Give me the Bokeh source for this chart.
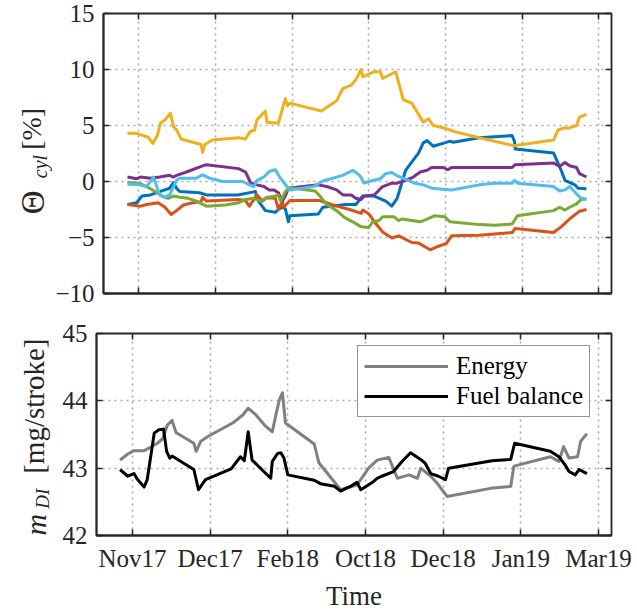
import math
from bokeh.plotting import figure
from bokeh.layouts import column, row
from bokeh.models import (Range1d, FixedTicker, LinearAxis, Legend, LegendItem,
                          CustomLabelingPolicy)
from bokeh.core.properties import value
from bokeh.embed import file_html
from bokeh.resources import INLINE

# ---------------- data ----------------
tick_labels = ["Nov17", "Dec17", "Feb18", "Oct18", "Dec18", "Jan19", "Mar19"]
tick_pos = list(range(1, len(tick_labels) + 1))

# cylinder 1 (blue)
t_c1 = [0.85, 0.97, 1.04, 1.15, 1.27, 1.40, 1.45, 1.49, 1.53, 1.79, 1.88, 2.29, 2.48, 2.52,
        2.54, 2.56, 2.65, 2.78, 2.82, 2.87, 2.91, 2.95, 2.97, 3.34, 3.40, 3.70, 3.83, 3.92,
        4.07, 4.22, 4.30, 4.37, 4.48, 4.54, 4.65, 4.71, 4.76, 4.84, 4.99, 5.06, 5.10, 5.44,
        5.87, 5.90, 5.91, 6.41, 6.51, 6.56, 6.69, 6.73, 6.84]
th_c1 = [-2.05, -1.9, -1.3, -1.2, -0.9, -0.6, -0.1, -0.6, -0.9, -1.0, -1.2, -1.2, -0.95, -0.9,
         -1.5, -1.75, -2.6, -2.75, -2.5, -2.3, -2.45, -3.6, -3.05, -2.9, -2.3, -2.05, -2.05, -1.3,
         -1.3, -1.75, -2.2, -1.5, 1.0, 1.55, 2.55, 3.45, 3.65, 3.15, 3.45, 3.6, 3.5, 3.9,
         4.1, 3.6, 2.9, 2.55, 1.0, 0.1, -0.3, -0.6, -0.65]

# cylinder 2 (orange)
t_c2 = [0.85, 1.02, 1.10, 1.25, 1.34, 1.42, 1.49, 1.58, 1.70, 1.81, 1.83, 1.88, 2.30, 2.39,
        2.44, 2.54, 2.61, 2.67, 2.78, 2.82, 2.87, 2.89, 2.97, 3.36, 3.58, 3.75, 3.90, 3.92,
        4.00, 4.09, 4.18, 4.30, 4.39, 4.56, 4.65, 4.80, 4.88, 5.01, 5.08, 5.44, 5.87, 5.91,
        6.41, 6.51, 6.62, 6.75, 6.84]
th_c2 = [-2.05, -2.2, -2.05, -1.9, -2.3, -2.95, -2.6, -2.1, -1.9, -1.8, -1.4, -1.75, -1.6, -1.7,
         -2.2, -1.2, -1.75, -1.45, -1.5, -2.5, -1.75, -2.3, -1.7, -1.7, -2.2, -2.5, -2.85, -2.55,
         -2.9, -3.75, -4.5, -5.05, -4.85, -5.45, -5.5, -6.1, -5.85, -5.55, -4.85, -4.8, -4.55, -4.2,
         -4.55, -4.05, -3.35, -2.65, -2.5]

# cylinder 3 (yellow)
t_c3 = [0.85, 0.97, 1.12, 1.18, 1.24, 1.28, 1.34, 1.41, 1.45, 1.49, 1.55, 1.81, 1.83, 1.86,
        1.96, 2.30, 2.39, 2.45, 2.51, 2.54, 2.65, 2.67, 2.82, 2.91, 2.94, 2.97, 3.38, 3.58,
        3.66, 3.77, 3.83, 3.90, 3.92, 4.07, 4.15, 4.18, 4.35, 4.45, 4.56, 4.71, 4.78, 4.84,
        4.97, 5.06, 5.12, 5.44, 5.89, 6.41, 6.47, 6.56, 6.60, 6.71, 6.75, 6.84]
th_c3 = [4.3, 4.3, 3.95, 3.4, 4.1, 5.2, 5.5, 6.1, 4.9, 4.6, 3.8, 3.3, 2.6, 3.3,
         3.7, 3.9, 3.8, 4.45, 4.6, 5.5, 6.3, 5.3, 5.2, 7.4, 6.75, 7.0, 6.3, 7.2,
         8.3, 8.6, 9.1, 10.0, 9.35, 9.8, 9.8, 9.2, 9.8, 7.3, 7.0, 5.3, 5.6, 5.0,
         4.8, 4.6, 4.45, 3.9, 3.2, 3.7, 4.6, 4.8, 4.75, 5.0, 5.75, 6.0]

# cylinder 4 (purple)
t_c4 = [0.85, 0.97, 1.02, 1.15, 1.27, 1.40, 1.45, 1.49, 1.62, 1.83, 1.88, 2.30, 2.39, 2.46,
        2.54, 2.63, 2.70, 2.76, 2.82, 2.87, 2.91, 2.95, 3.34, 3.45, 3.58, 3.66, 3.77, 3.83,
        3.90, 3.94, 4.07, 4.18, 4.30, 4.37, 4.48, 4.58, 4.67, 4.76, 4.82, 4.97, 5.03, 5.08,
        5.87, 5.91, 6.41, 6.49, 6.56, 6.62, 6.71, 6.75, 6.84]
th_c4 = [0.4, 0.25, 0.4, 0.3, 0.4, 0.55, 0.4, 0.55, 0.85, 1.4, 1.5, 1.15, 0.85, -0.15,
         -0.3, -0.45, -0.75, -0.75, -1.0, -1.75, -1.3, -0.6, -0.3, -0.45, -0.75, -1.2, -1.2, -1.5,
         -1.6, -1.3, -1.2, -0.45, -0.15, -0.15, 0.1, 0.4, 0.85, 1.0, 1.25, 1.25, 1.05, 1.25,
         1.25, 1.5, 1.65, 1.35, 1.7, 1.4, 1.25, 0.7, 0.4]

# cylinder 5 (green)
t_c5 = [0.85, 1.00, 1.10, 1.21, 1.30, 1.38, 1.45, 1.53, 1.64, 1.75, 1.88, 2.13, 2.30, 2.39,
        2.50, 2.59, 2.67, 2.76, 2.82, 2.85, 2.91, 2.97, 3.30, 3.36, 3.45, 3.58, 3.68, 3.79,
        3.90, 4.00, 4.05, 4.13, 4.18, 4.33, 4.39, 4.43, 4.67, 4.76, 4.86, 4.99, 5.06, 5.44,
        5.64, 5.87, 5.94, 6.41, 6.49, 6.56, 6.62, 6.71, 6.77, 6.84]
th_c5 = [-0.1, -0.15, -0.45, -0.9, -1.3, -1.5, -1.3, -1.4, -1.5, -1.75, -2.2, -2.1, -1.9, -1.6,
         -1.5, -1.75, -1.4, -1.35, -1.2, -1.75, -0.9, -0.55, -0.85, -1.3, -2.05, -2.6, -3.2, -3.6,
         -4.05, -4.1, -3.6, -3.5, -3.15, -3.15, -3.5, -3.35, -3.6, -3.35, -3.05, -3.15, -3.6, -3.85,
         -3.9, -3.8, -3.05, -2.6, -2.3, -2.55, -2.3, -2.0, -1.6, -1.55]

# cylinder 6 (light blue)
t_c6 = [0.85, 1.00, 1.10, 1.19, 1.27, 1.34, 1.40, 1.49, 1.53, 1.75, 1.83, 1.92, 2.09, 2.35,
        2.43, 2.50, 2.54, 2.63, 2.70, 2.78, 2.85, 2.93, 2.97, 3.28, 3.40, 3.66, 3.79, 3.88,
        3.94, 4.00, 4.15, 4.22, 4.30, 4.37, 4.48, 4.60, 4.71, 4.82, 5.08, 5.44, 5.64, 5.87,
        5.90, 5.94, 6.41, 6.49, 6.56, 6.62, 6.71, 6.77, 6.84]
th_c6 = [-0.25, -0.3, -0.45, 0.4, -1.2, -1.4, -1.2, 0.1, 0.3, 0.3, 0.6, 0.3, 0.0, 0.0,
         -0.25, -0.45, 0.1, 0.4, 0.9, 1.05, 0.25, -0.45, -0.75, -0.45, 0.05, 0.55, 1.0, 0.55,
         -0.15, 0.0, 0.25, 0.7, 0.8, 0.5, 0.2, -0.15, -0.3, -0.6, -0.75, -0.3, -0.15, -0.15,
         0.1, -0.15, -0.45, -0.85, -0.75, -0.45, -1.1, -1.5, -1.6]

# injected fuel mass, energy method (gray)
t_energy = [0.84, 0.94, 1.02, 1.15, 1.22, 1.32, 1.39, 1.45, 1.51, 1.56, 1.79, 1.82, 1.88, 1.97,
            2.29, 2.42, 2.49, 2.59, 2.70, 2.80, 2.85, 2.89, 2.93, 2.97, 3.34, 3.40, 3.68, 3.89,
            4.04, 4.15, 4.30, 4.41, 4.56, 4.67, 4.71, 4.84, 4.92, 5.05, 5.61, 5.87, 5.91, 6.38,
            6.49, 6.55, 6.62, 6.73, 6.77, 6.85]
m_energy = [43.12, 43.21, 43.26, 43.26, 43.3, 43.37, 43.44, 43.64, 43.71, 43.53, 43.37, 43.25, 43.4, 43.47,
            43.67, 43.79, 43.89, 43.79, 43.64, 43.54, 43.81, 44.01, 44.12, 43.67, 43.36, 43.08, 42.68, 42.75,
            43.0, 43.12, 43.16, 42.85, 42.9, 42.85, 43.0, 42.88, 42.78, 42.58, 42.7, 42.73, 43.03, 43.17,
            43.1, 43.32, 43.15, 43.17, 43.4, 43.51]

# injected fuel mass, fuel balance (black)
t_fuel = [0.84, 0.94, 1.02, 1.06, 1.15, 1.19, 1.28, 1.34, 1.40, 1.44, 1.48, 1.51, 1.79, 1.85,
          1.94, 2.27, 2.39, 2.44, 2.49, 2.54, 2.78, 2.80, 2.87, 2.91, 2.95, 3.00, 3.34, 3.42,
          3.60, 3.68, 3.77, 3.81, 3.89, 3.94, 4.09, 4.15, 4.21, 4.36, 4.47, 4.58, 4.71, 4.77,
          4.84, 4.94, 5.03, 5.07, 5.63, 5.87, 5.92, 6.38, 6.49, 6.58, 6.62, 6.70, 6.75, 6.85]
m_fuel = [42.98, 42.88, 42.92, 42.84, 42.72, 42.83, 43.52, 43.57, 43.58, 43.25, 43.15, 43.18, 42.98, 42.68,
          42.83, 42.99, 43.17, 43.11, 43.54, 43.12, 42.85, 43.1, 43.22, 43.23, 43.15, 42.9, 42.82, 42.77,
          42.73, 42.66, 42.71, 42.73, 42.79, 42.68, 42.79, 42.85, 42.88, 42.95, 43.1, 43.23, 43.13, 43.07,
          42.92, 42.88, 42.83, 43.0, 43.11, 43.13, 43.37, 43.25, 43.17, 43.03, 42.95, 42.9, 42.98, 42.92]

# ---------------- styling ----------------
FONT = "Liberation Serif"
AX = "#262626"
X_RANGE = (0.537, 7.167)
cyl_colors = ["#0072BD", "#D95319", "#EDB120", "#7E2F8E", "#77AC30", "#4DBEEE"]
LABEL_W = 52


def no_labels():
    return CustomLabelingPolicy(code="return new Set()")


def make_fig(height, yr, yticks, border_top, border_bottom, show_x_labels):
    p = figure(width=637 - LABEL_W, height=height, x_range=Range1d(*X_RANGE), y_range=Range1d(*yr),
               output_backend="svg", toolbar_location=None,
               min_border_left=96 - LABEL_W, min_border_right=26,
               min_border_top=border_top, min_border_bottom=border_bottom,
               background_fill_color="white", border_fill_color="white")
    p.outline_line_color = AX
    p.outline_line_width = 1.8
    p.outline_line_alpha = 1.0
    xt = FixedTicker(ticks=tick_pos)
    yt = FixedTicker(ticks=yticks)
    p.xaxis.ticker = xt
    p.yaxis.ticker = yt
    p.xgrid.ticker = xt
    p.ygrid.ticker = yt
    for g in (p.xgrid, p.ygrid):
        g.grid_line_color = "#a8a8a8"
        g.grid_line_width = 1.6
        g.grid_line_dash = "2 4"
    for ax in (p.xaxis, p.yaxis):
        ax.axis_line_color = AX
        ax.axis_line_width = 1.8
        ax.major_tick_in = 6
        ax.major_tick_out = 0
        ax.major_tick_line_color = AX
        ax.major_tick_line_width = 1.5
        ax.minor_tick_line_color = None
        ax.major_label_text_font = FONT
        ax.major_label_text_font_size = "25px"
        ax.major_label_text_color = AX
    p.yaxis.major_label_standoff = 9
    if show_x_labels:
        p.xaxis.major_label_overrides = {k: lab for k, lab in zip(tick_pos, tick_labels)}
        p.xaxis.major_label_standoff = 9
        p.xaxis.axis_label = "Time"
        p.xaxis.axis_label_text_font = FONT
        p.xaxis.axis_label_text_font_size = "27px"
        p.xaxis.axis_label_text_font_style = "normal"
        p.xaxis.axis_label_text_color = AX
        p.xaxis.axis_label_standoff = 6
    else:
        p.xaxis.major_label_policy = no_labels()
        p.xaxis.major_label_standoff = 0
    # mirrored ticks (box)
    top = LinearAxis(ticker=xt, major_tick_in=6, major_tick_out=0, axis_line_color=None,
                     major_tick_line_color=AX, major_tick_line_width=1.5, minor_tick_line_color=None,
                     major_label_policy=no_labels(), major_label_standoff=0)
    right = LinearAxis(ticker=yt, major_tick_in=6, major_tick_out=0, axis_line_color=None,
                       major_tick_line_color=AX, major_tick_line_width=1.5, minor_tick_line_color=None,
                       major_label_policy=no_labels(), major_label_standoff=0)
    p.add_layout(top, "above")
    p.add_layout(right, "right")
    return p


def label_fig(height, frame_top, frame_bottom, pieces):
    """Narrow figure holding the rotated y-axis title built from pieces (centre anchored).
    Its frame is aligned with the neighbouring plot frame, so the y range spans that
    frame's pixel extent, measured upward from the bottom of the figure."""
    f = figure(width=LABEL_W, height=height, x_range=Range1d(0, LABEL_W),
               y_range=Range1d(height - frame_bottom, height - frame_top),
               output_backend="svg", toolbar_location=None, min_border=0,
               x_axis_location=None, y_axis_location=None,
               background_fill_color="white", border_fill_color="white")
    f.grid.visible = False
    f.outline_line_color = None
    for txt, x, y, size, style in pieces:
        f.text(x=[x], y=[y], text=[txt], angle=math.pi / 2, text_align="center",
               text_baseline="middle", text_font=value(FONT), text_font_size=value(size),
               text_font_style=style, text_color=AX)
    return f


# ---------------- top panel ----------------
p1 = make_fig(313, (-10, 15), [-10, -5, 0, 5, 10, 15], 13, 11, False)
series = [(t_c1, th_c1), (t_c2, th_c2), (t_c3, th_c3), (t_c4, th_c4), (t_c5, th_c5), (t_c6, th_c6)]
for (tx, ty), col in zip(series, cyl_colors):
    p1.line(tx, ty, line_color=col, line_width=3, line_join="round")
l1 = label_fig(313, 13, 302, [("\u0398", 32, 105, "33px", "normal"),
                              ("cyl", 39, 142, "20px", "italic"),
                              ("[%]", 31, 181, "28px", "normal")])

# ---------------- bottom panel ----------------
p2 = make_fig(300, (42, 45), [42, 43, 44, 45], 20, 77, True)
r_e = p2.line(t_energy, m_energy, line_color="#808080", line_width=3, line_join="round")
r_f = p2.line(t_fuel, m_fuel, line_color="black", line_width=3, line_join="round")
l2 = label_fig(300, 20, 223, [("m", 35, 88, "30px", "italic"),
                              ("DI", 42, 114, "19px", "italic"),
                              ("[mg/stroke]", 33, 207, "29px", "normal")])

legend = Legend(items=[LegendItem(label="Energy", renderers=[r_e]),
                       LegendItem(label="Fuel balance", renderers=[r_f])],
                location=(261, 118))
legend.label_text_font = FONT
legend.label_text_font_size = "25px"
legend.label_text_color = "black"
legend.glyph_width = 84
legend.glyph_height = 24
legend.label_standoff = 8
legend.padding = 6
legend.spacing = 2
legend.margin = 0
legend.border_line_color = AX
legend.border_line_width = 1.5
legend.background_fill_alpha = 1.0
p2.add_layout(legend)

layout = column(row(l1, p1, spacing=0), row(l2, p2, spacing=0), spacing=0)
open("out.html", "w").write(file_html(layout, INLINE))
